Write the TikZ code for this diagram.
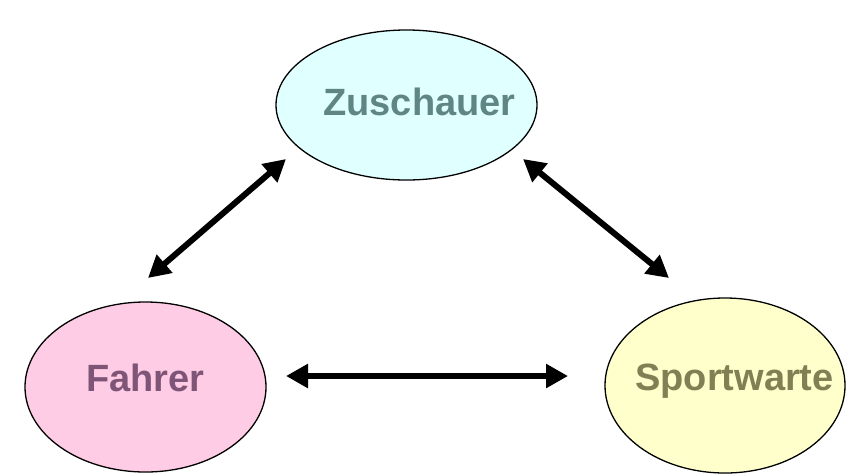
\documentclass[tikz,border=0pt]{standalone}
\usepackage{fontspec}
\setmainfont{Liberation Sans}
\usetikzlibrary{shapes.geometric,arrows.meta}
\definecolor{zufill}{HTML}{E0FFFF}
\definecolor{zutext}{HTML}{5F8585}
\definecolor{fafill}{HTML}{FFCCE6}
\definecolor{fatext}{HTML}{7F5577}
\definecolor{spfill}{HTML}{FFFFCC}
\definecolor{sptext}{HTML}{808055}
\tikzset{
  bubble/.style={ellipse, draw=black, line width=1.3pt, inner sep=0pt},
  lbl/.style={font=\bfseries\fontsize{38}{40}\selectfont, inner sep=0pt, anchor=base},
  link/.style={line width=6pt, {Triangle[length=22pt,width=23pt]}-{Triangle[length=22pt,width=23pt]}}
}
\begin{document}
\begin{tikzpicture}[x=1pt,y=-1pt]
\useasboundingbox (0,0) rectangle (856,475);
\node[bubble, fill=zufill, minimum width=261pt, minimum height=150pt] (zu) at (406.5,105) {};
\node[bubble, fill=fafill, minimum width=241pt, minimum height=170pt] (fa) at (145.5,387) {};
\node[bubble, fill=spfill, minimum width=240pt, minimum height=175pt] (sp) at (725,385.5) {};
\node[lbl, text=zutext] (zut) at (419.5,115) {Zuschauer};
\node[lbl, text=fatext] (fat) at (145.5,391) {Fahrer};
\node[lbl, text=sptext] (spt) at (734.5,390) {Sportwarte};
\coordinate (a1) at (148,278);
\coordinate (a2) at (286,159);
\coordinate (b1) at (523,159);
\coordinate (b2) at (669,278);
\coordinate (c1) at (286,376);
\coordinate (c2) at (568,376);
\draw[link] (a1) -- (a2);
\draw[link] (b1) -- (b2);
\draw[link] (c1) -- (c2);
\end{tikzpicture}
\end{document}
